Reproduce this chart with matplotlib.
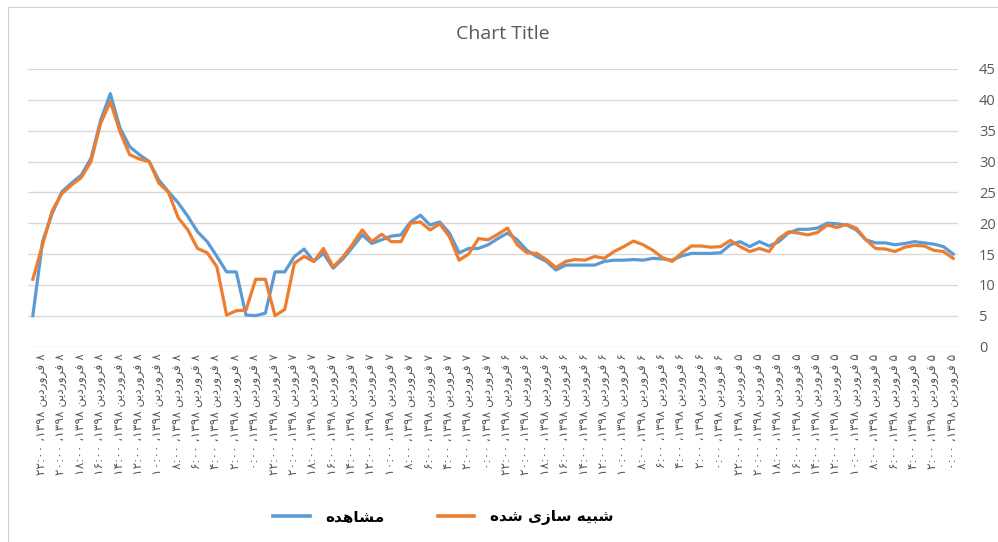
import matplotlib
matplotlib.use("Agg")
import matplotlib.pyplot as plt
from matplotlib.lines import Line2D

# ---------------- data (chronological order: 5 Farvardin 00:00 -> 8 Farvardin 23:00, hourly)
days = ["۵", "۶", "۷", "۸"]
hours = ["۰:۰۰", "۱:۰۰", "۲:۰۰", "۳:۰۰", "۴:۰۰", "۵:۰۰", "۶:۰۰", "۷:۰۰",
         "۸:۰۰", "۹:۰۰", "۱۰:۰۰", "۱۱:۰۰", "۱۲:۰۰", "۱۳:۰۰", "۱۴:۰۰", "۱۵:۰۰",
         "۱۶:۰۰", "۱۷:۰۰", "۱۸:۰۰", "۱۹:۰۰", "۲۰:۰۰", "۲۱:۰۰", "۲۲:۰۰", "۲۳:۰۰"]
month = "فروردین"
year = "۱۳۹۸"

observed = [15.0, 16.2, 16.6, 16.8, 17.0, 16.7, 16.5, 16.8, 16.8, 17.3, 18.9, 19.7,
            19.9, 20.0, 19.2, 19.0, 19.0, 18.4, 17.0, 16.3, 17.0, 16.2, 17.0, 16.5,
            15.2, 15.1, 15.1, 15.1, 14.7, 14.0, 14.2, 14.3, 14.0, 14.1, 14.0, 14.0,
            13.8, 13.2, 13.2, 13.2, 13.2, 12.4, 13.8, 14.6, 15.6, 17.3, 18.4, 17.5,
            16.5, 15.9, 15.9, 15.2, 18.4, 20.2, 19.7, 21.3, 20.2, 18.1, 17.9, 17.3,
            16.7, 18.1, 16.1, 14.2, 12.7, 15.1, 13.8, 15.8, 14.6, 12.1, 12.1, 5.4,
            5.0, 5.1, 12.1, 12.1, 14.6, 17.0, 18.6, 21.1, 23.3, 25.1, 27.0, 30.0,
            31.1, 32.4, 35.4, 41.0, 36.7, 30.5, 27.8, 26.5, 25.1, 21.6, 17.0, 5.0]

simulated = [14.3, 15.4, 15.6, 16.3, 16.4, 16.1, 15.4, 15.8, 15.9, 17.3, 19.2, 19.8,
             19.3, 19.7, 18.5, 18.1, 18.4, 18.6, 17.5, 15.4, 15.9, 15.4, 16.2, 17.2,
             16.2, 16.1, 16.3, 16.3, 15.2, 13.8, 14.4, 15.6, 16.5, 17.1, 16.2, 15.4,
             14.3, 14.6, 14.0, 14.1, 13.8, 12.8, 14.1, 15.1, 15.2, 16.5, 19.2, 18.2,
             17.3, 17.5, 15.0, 14.0, 17.8, 19.9, 18.9, 20.2, 20.0, 17.0, 17.0, 18.2,
             17.0, 18.9, 16.6, 14.5, 12.9, 15.9, 13.8, 14.6, 13.5, 6.0, 5.0, 10.9,
             10.9, 5.9, 5.8, 5.1, 12.9, 15.2, 15.9, 18.9, 20.9, 25.0, 26.5, 30.0,
             30.4, 31.1, 34.8, 39.7, 36.2, 30.0, 27.4, 26.2, 24.8, 22.0, 16.5, 10.9]

label_observed = "مشاهده"
label_simulated = "شبیه سازی شده"
title = "Chart Title"
yticks = [0, 5, 10, 15, 20, 25, 30, 35, 40, 45]

# ---------------- minimal Persian shaping (presentation forms) for matplotlib
FORMS = {
    'ا': ('\uFE8D', '\uFE8E', None, None),
    'ب': ('\uFE8F', '\uFE90', '\uFE91', '\uFE92'),
    'د': ('\uFEA9', '\uFEAA', None, None),
    'ر': ('\uFEAD', '\uFEAE', None, None),
    'ز': ('\uFEAF', '\uFEB0', None, None),
    'س': ('\uFEB1', '\uFEB2', '\uFEB3', '\uFEB4'),
    'ش': ('\uFEB5', '\uFEB6', '\uFEB7', '\uFEB8'),
    'ف': ('\uFED1', '\uFED2', '\uFED3', '\uFED4'),
    'م': ('\uFEE1', '\uFEE2', '\uFEE3', '\uFEE4'),
    'ن': ('\uFEE5', '\uFEE6', '\uFEE7', '\uFEE8'),
    'ه': ('\uFEE9', '\uFEEA', '\uFEEB', '\uFEEC'),
    'و': ('\uFEED', '\uFEEE', None, None),
    'ی': ('\uFBFC', '\uFBFD', '\uFBFE', '\uFBFF'),
}


def shape(text):
    out = []
    n = len(text)
    for i, ch in enumerate(text):
        if ch not in FORMS:
            out.append(ch)
            continue
        f = FORMS[ch]
        prev = text[i - 1] if i > 0 else None
        nxt = text[i + 1] if i < n - 1 else None
        jp = prev in FORMS and FORMS[prev][2] is not None
        jn = nxt in FORMS and f[2] is not None
        if jp and jn:
            out.append(f[3])
        elif jp:
            out.append(f[1])
        elif jn:
            out.append(f[2])
        else:
            out.append(f[0])
    return "".join(out)


def rtl(text):
    return shape(text)[::-1]


# category labels (visual order, for an RTL paragraph)
categories = []
for d in days:
    for h in hours:
        categories.append(h + " ،" + year + " " + rtl(month) + " " + d)

x = list(range(len(observed)))

# ---------------- figure
W, H = 998, 542
fig = plt.figure(figsize=(W / 100, H / 100), dpi=100)
ax = fig.add_axes([28 / W, 1 - 346.5 / H, (958 - 28) / W, (346.5 - 69) / H])

blue = "#5B9BD5"
orange = "#ED7D31"
ax.plot(x, observed, color=blue, lw=2.3, solid_joinstyle="round", zorder=3)
ax.plot(x, simulated, color=orange, lw=2.3, solid_joinstyle="round", zorder=4)

ax.set_xlim(len(x) - 0.5, -0.5)
ax.set_ylim(0, 45)
ax.set_yticks(yticks)
ax.yaxis.tick_right()
ax.grid(axis="y", color="#D9D9D9", lw=1)
ax.set_axisbelow(True)
for s in ax.spines.values():
    s.set_visible(False)
ax.tick_params(axis="y", length=0, pad=15, labelsize=10.5, labelcolor="#595959")
for lab in ax.get_yticklabels():
    lab.set_fontfamily("Open Sans")
    lab.set_horizontalalignment("left")

ax.set_xticks(x[::2])
ax.set_xticklabels(categories[::2], rotation=90, fontsize=8.8, color="#595959",
                   family="DejaVu Sans")
ax.tick_params(axis="x", length=0, pad=5)

fig.text(503 / W, 1 - 34 / H, title, ha="center", va="center", fontsize=14,
         color="#595959", family="Open Sans")

# legend
handles = [Line2D([], [], color=blue, lw=2.6), Line2D([], [], color=orange, lw=2.6)]
fig.legend(handles, [rtl(label_observed), rtl(label_simulated)], ncol=2,
           loc="center", bbox_to_anchor=(443 / W, 1 - 517 / H), frameon=False,
           prop={"family": "DejaVu Sans", "weight": "bold", "size": 11},
           handlelength=2.4, handletextpad=1.0, columnspacing=3.5)

# frame lines of the chart area
fig.add_artist(Line2D([8 / W, 1], [1 - 7 / H, 1 - 7 / H], color="#D0D0D0", lw=0.8))
fig.add_artist(Line2D([8 / W, 8 / W], [0, 1 - 7 / H], color="#D0D0D0", lw=0.8))

fig.savefig("out.png", dpi=100)
